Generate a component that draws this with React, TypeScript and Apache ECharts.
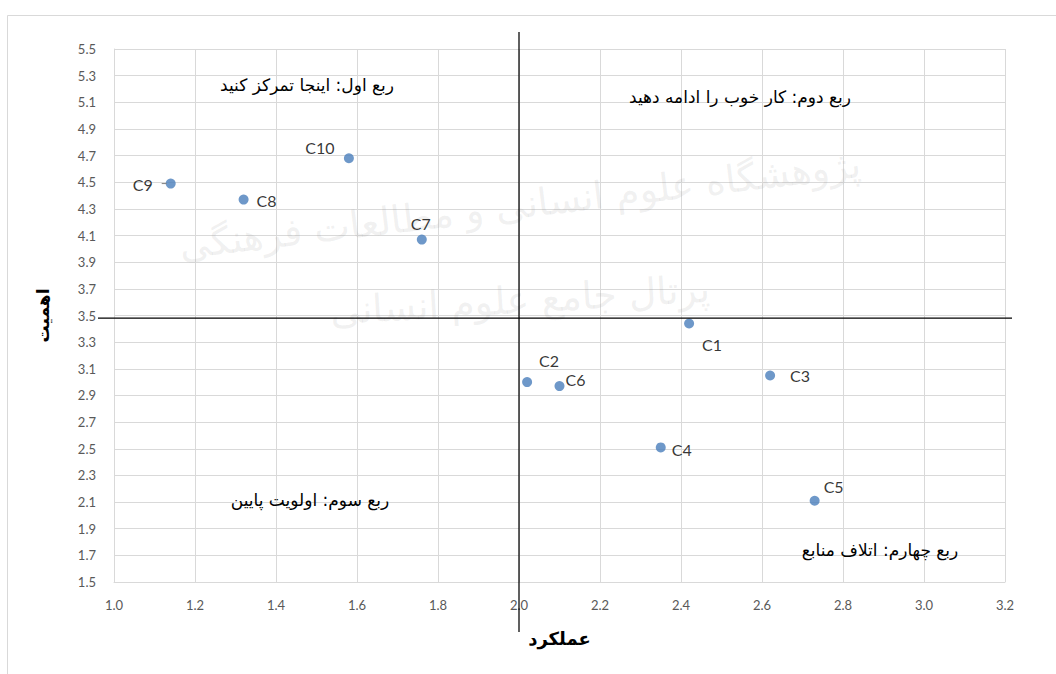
import React, { useEffect, useRef } from "react";
import * as echarts from "echarts";

const names = ["C1", "C2", "C3", "C4", "C5", "C6", "C7", "C8", "C9", "C10"];
const performance = [2.42, 2.02, 2.62, 2.35, 2.73, 2.10, 1.76, 1.32, 1.14, 1.58];
const importance = [3.44, 3.0, 3.05, 2.51, 2.11, 2.97, 4.07, 4.37, 4.49, 4.68];
const quadrantX = 2.0;
const quadrantY = 3.48;
const quadrantTexts = [
  "ربع اول: اینجا تمرکز کنید",
  "ربع دوم: کار خوب را ادامه دهید",
  "ربع سوم: اولویت پایین",
  "ربع چهارم: اتلاف منابع",
];
const xAxisTitle = "عملکرد";
const yAxisTitle = "اهمیت";

// label offsets (layout), keyed by point name
const labelOffsets: Record<string, [number, number]> = {
  C1: [23, 21],
  C2: [22, -22],
  C3: [30, 0],
  C4: [21, 2],
  C5: [19, -14],
  C6: [16, -7],
  C7: [-1, -16],
  C8: [23, 1],
  C9: [-28, 1],
  C10: [-29, -11],
};

const quadPos: [number, number][] = [
  [307, 85],
  [740, 97],
  [310, 500],
  [880, 550],
];

export default function App() {
  const ref = useRef<HTMLDivElement>(null);
  useEffect(() => {
    if (!ref.current) return;
    const chart = echarts.init(ref.current, undefined, { renderer: "svg" });
    const labelFont = "Lato, 'Open Sans', sans-serif";
    const option: any = {
      animation: false,
      backgroundColor: "#ffffff",
      grid: { left: 114, top: 49, width: 891, height: 533, containLabel: false },
      xAxis: {
        type: "value",
        min: 1.0,
        max: 3.2,
        interval: 0.2,
        name: xAxisTitle,
        nameLocation: "middle",
        nameGap: 47,
        nameTextStyle: { fontFamily: "'DejaVu Sans'", fontWeight: "bold", fontSize: 18, color: "#000" },
        axisLine: { show: true, lineStyle: { color: "#d9d9d9", width: 1 } },
        axisTick: { show: false },
        splitLine: { show: true, lineStyle: { color: "#d9d9d9", width: 1 } },
        axisLabel: {
          color: "#595959",
          fontSize: 13,
          fontFamily: labelFont,
          margin: 16,
          formatter: (v: number) => v.toFixed(1),
        },
      },
      yAxis: {
        type: "value",
        min: 1.5,
        max: 5.5,
        interval: 0.2,
        name: yAxisTitle,
        nameLocation: "middle",
        nameGap: 63,
        nameRotate: 90,
        nameTextStyle: { fontFamily: "'DejaVu Sans'", fontWeight: "bold", fontSize: 17, color: "#000" },
        axisLine: { show: true, lineStyle: { color: "#d9d9d9", width: 1 } },
        axisTick: { show: false },
        splitLine: { show: true, lineStyle: { color: "#d9d9d9", width: 1 } },
        axisLabel: {
          color: "#595959",
          fontSize: 13,
          fontFamily: labelFont,
          margin: 18,
          formatter: (v: number) => v.toFixed(1),
        },
      },
      series: [
        {
          type: "scatter",
          symbol: "circle",
          symbolSize: 10,
          itemStyle: { color: "#4a7ebb" },
          data: names.map((n, i) => ({
            name: n,
            value: [performance[i], importance[i]],
            label: {
              show: true,
              position: "inside",
              offset: labelOffsets[n] || [20, 0],
              formatter: n,
              color: "#000",
              fontSize: 16,
              fontFamily: labelFont,
              align: "center",
              verticalAlign: "middle",
            },
          })),
          z: 5,
        },
      ],
    };
    chart.setOption(option);

    const tl = chart.convertToPixel({ gridIndex: 0 }, [1.0, 5.5]) as number[];
    const br = chart.convertToPixel({ gridIndex: 0 }, [3.2, 1.5]) as number[];
    const q = chart.convertToPixel({ gridIndex: 0 }, [quadrantX, quadrantY]) as number[];
    const c9 = chart.convertToPixel({ gridIndex: 0 }, [performance[8], importance[8]]) as number[];

    chart.setOption({
      graphic: [
        {
          type: "rect",
          shape: { x: 7.5, y: 15.5, width: 1100, height: 700 },
          style: { fill: "none", stroke: "#d9d9d9", lineWidth: 1 },
          silent: true,
          z: 0,
        },
        {
          type: "text",
          x: 520,
          y: 205,
          rotation: 0.12,
          style: {
            text: "پژوهشگاه علوم انسانی و مطالعات فرهنگی",
            font: "38px 'DejaVu Sans'",
            fill: "rgba(150,150,150,0.14)",
            align: "center",
            verticalAlign: "middle",
          },
          silent: true,
          z: 1,
        },
        {
          type: "text",
          x: 520,
          y: 300,
          rotation: 0.06,
          style: {
            text: "پرتال جامع علوم انسانی",
            font: "38px 'DejaVu Sans'",
            fill: "rgba(150,150,150,0.14)",
            align: "center",
            verticalAlign: "middle",
          },
          silent: true,
          z: 1,
        },
        {
          type: "line",
          shape: { x1: q[0], y1: tl[1] - 17, x2: q[0], y2: br[1] + 50 },
          style: { stroke: "#000", lineWidth: 1.25 },
          silent: true,
          z: 10,
        },
        {
          type: "line",
          shape: { x1: tl[0] - 16, y1: q[1], x2: br[0] + 7, y2: q[1] },
          style: { stroke: "#000", lineWidth: 1.25 },
          silent: true,
          z: 10,
        },
        {
          type: "line",
          shape: { x1: c9[0] - 9, y1: c9[1], x2: c9[0] - 4, y2: c9[1] },
          style: { stroke: "#808080", lineWidth: 1 },
          silent: true,
          z: 10,
        },
        ...quadrantTexts.map((t, i) => ({
          type: "text",
          x: quadPos[i][0],
          y: quadPos[i][1],
          style: {
            text: t,
            font: "17px 'DejaVu Sans'",
            fill: "#000",
            align: "center",
            verticalAlign: "middle",
          },
          silent: true,
          z: 10,
        })),
      ],
    });

    return () => chart.dispose();
  }, []);
  return (
    <div
      ref={ref}
      style={{ position: "fixed", left: 0, top: 0, width: 1056, height: 674 }}
    />
  );
}
